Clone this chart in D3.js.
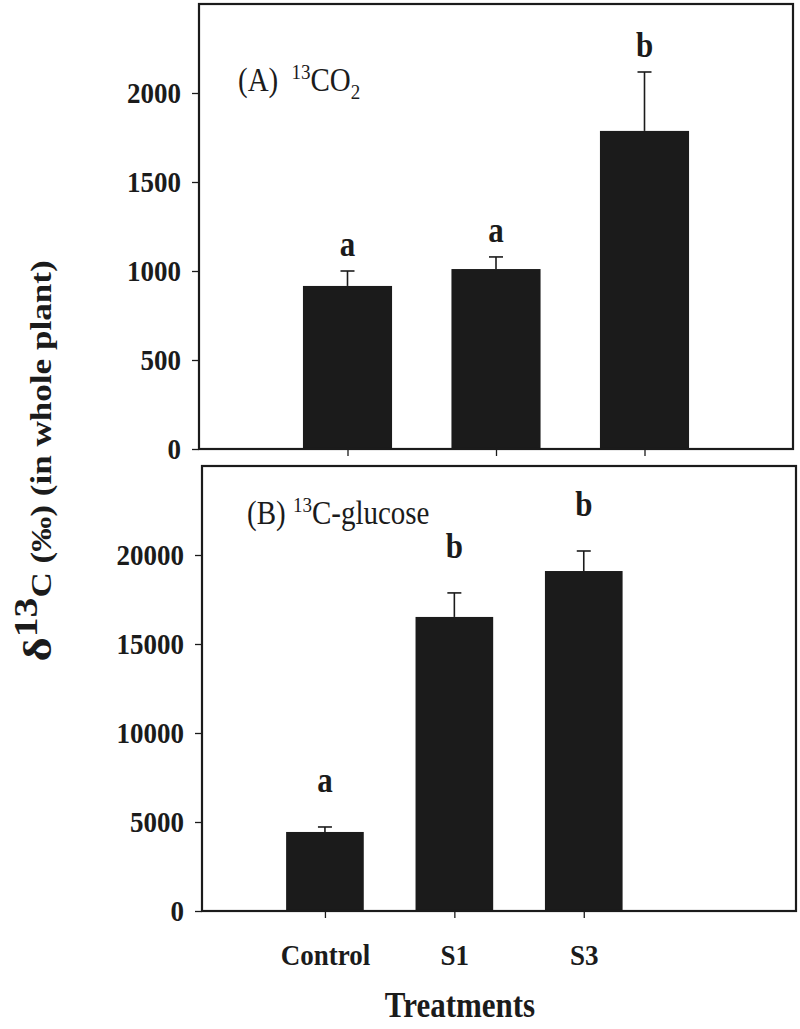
<!DOCTYPE html>
<html>
<head>
<meta charset="utf-8">
<script src="https://cdn.jsdelivr.net/npm/d3@7"></script>
<style>
  body { margin: 0; background: #fff; }
  svg { display: block; font-family: "Liberation Serif", "Times New Roman", serif; }
</style>
</head>
<body>
<svg id="chart" width="800" height="1029"></svg>
<script>
// data
const treatments = ["Control", "S1", "S3"];
const co2Mean = [916, 1011, 1787];
const co2Err = [84, 68, 331];
const co2Letters = ["a", "a", "b"];
const glucoseMean = [4440, 16520, 19100];
const glucoseErr = [280, 1350, 1125];
const glucoseLetters = ["a", "b", "b"];
const co2Ticks = [0, 500, 1000, 1500, 2000];
const glucoseTicks = [0, 5000, 10000, 15000, 20000];

const svg = d3.select("#chart");
const ink = "#1b1b1b";
const stretch = 1.13; // source image is a bit taller than it is wide

function panel(opts) {
    const x = d3.scaleLinear().domain(opts.xDomain).range([opts.left, opts.right]);
    const y = d3.scaleLinear().domain([0, opts.yMax]).range([opts.bottom, opts.top]);
    const barW = x(0.6) - x(0);
    const rows = treatments.map((t, i) => ({
        name: t, pos: i + 1, mean: opts.mean[i], err: opts.err[i], letter: opts.letters[i]
    }));

    const g = svg.append("g");

    g.append("g").
    selectAll("rect").
    data(rows).
    join("rect").
    attr("x", d => x(d.pos) - barW / 2).
    attr("width", barW).
    attr("y", d => y(d.mean)).
    attr("height", d => y(0) - y(d.mean)).
    attr("fill", ink);

    // error bars (upper half only)
    const eb = g.append("g").
    attr("stroke", ink).
    attr("stroke-width", 1.6).
    selectAll("g").
    data(rows).
    join("g");

    eb.append("line").
    attr("x1", d => x(d.pos)).
    attr("x2", d => x(d.pos)).
    attr("y1", d => y(d.mean)).
    attr("y2", d => y(d.mean + d.err));

    eb.append("line").
    attr("x1", d => x(d.pos) - 7).
    attr("x2", d => x(d.pos) + 7).
    attr("y1", d => y(d.mean + d.err)).
    attr("y2", d => y(d.mean + d.err));

    // significance letters
    g.append("g").
    selectAll("text").
    data(rows).
    join("text").
    attr("transform", d => `translate(${x(d.pos)},${y(d.mean + d.err) - opts.letterGap}) scale(1,${stretch})`).
    attr("text-anchor", "middle").
    style("font-weight", "bold").
    style("font-size", "31px").
    attr("fill", ink).
    text(d => d.letter);

    // y axis
    const yAxis = g.append("g").
    attr("transform", `translate(${opts.left},0)`).
    call(d3.axisLeft(y).tickValues(opts.ticks).tickSize(7).tickPadding(11).tickFormat(d3.format("d")));
    yAxis.select(".domain").remove();
    yAxis.selectAll("line").attr("stroke", ink).attr("stroke-width", 1.3);
    yAxis.selectAll("text").
    attr("transform", `scale(1,${stretch})`).
    style("font-family", "'Liberation Serif', serif").
    style("font-weight", "bold").
    style("font-size", "27px").
    attr("fill", ink);

    // x axis ticks
    const xAxis = g.append("g").
    attr("transform", `translate(0,${opts.bottom})`).
    call(d3.axisBottom(x).tickValues([1, 2, 3]).tickSize(7).tickPadding(22).
    tickFormat(d => opts.showNames ? treatments[d - 1] : ""));
    xAxis.select(".domain").remove();
    xAxis.selectAll("line").attr("stroke", ink).attr("stroke-width", 1.3);
    xAxis.selectAll("text").
    attr("transform", `scale(1,${stretch})`).
    style("font-family", "'Liberation Serif', serif").
    style("font-weight", "bold").
    style("font-size", "27px").
    attr("fill", ink);

    // frame
    g.append("rect").
    attr("x", opts.left).
    attr("y", opts.top).
    attr("width", opts.right - opts.left).
    attr("height", opts.bottom - opts.top).
    attr("fill", "none").
    attr("stroke", ink).
    attr("stroke-width", 2.2);

    // panel title
    const title = g.append("text").
    attr("transform", `translate(${opts.titleX},${opts.titleY}) scale(1,${stretch})`).
    style("font-size", "29px").
    attr("fill", ink);
    opts.title(title);
}

panel({
    left: 199, right: 793, top: 4, bottom: 449,
    xDomain: [0, 4], yMax: 2500, ticks: co2Ticks,
    mean: co2Mean, err: co2Err, letters: co2Letters,
    letterGap: 15, showNames: false,
    titleX: 238, titleY: 91,
    title: t => {
        t.append("tspan").text("(A) ");
        t.append("tspan").attr("dx", 6).attr("dy", -11).style("font-size", "19px").text("13");
        t.append("tspan").attr("dy", 11).text("CO");
        t.append("tspan").attr("dy", 7).style("font-size", "19px").text("2");
    }
});

panel({
    left: 202, right: 796, top: 466, bottom: 911,
    xDomain: [0.05, 4.64], yMax: 25000, ticks: glucoseTicks,
    mean: glucoseMean, err: glucoseErr, letters: glucoseLetters,
    letterGap: 35, showNames: true,
    titleX: 247, titleY: 524,
    title: t => {
        t.append("tspan").text("(B) ");
        t.append("tspan").attr("dy", -11).style("font-size", "19px").text("13");
        t.append("tspan").attr("dy", 11).text("C-glucose");
    }
});

// x axis title
svg.append("text").
attr("transform", `translate(460,1017) scale(1,${stretch})`).
attr("text-anchor", "middle").
style("font-weight", "bold").
style("font-size", "31px").
attr("fill", ink).
text("Treatments");

// y axis title, shared by both panels
const yTitle = svg.append("text").
attr("transform", `translate(51,461) rotate(-90) scale(1.17,1)`).
attr("text-anchor", "middle").
style("font-weight", "bold").
style("font-size", "30px").
attr("fill", ink);
yTitle.append("tspan").style("font-size", "40px").text("δ");
yTitle.append("tspan").attr("dy", -14).style("font-size", "34px").text("13");
yTitle.append("tspan").attr("dy", 14).text("C (‰) (in whole plant)");
</script>
</body>
</html>
